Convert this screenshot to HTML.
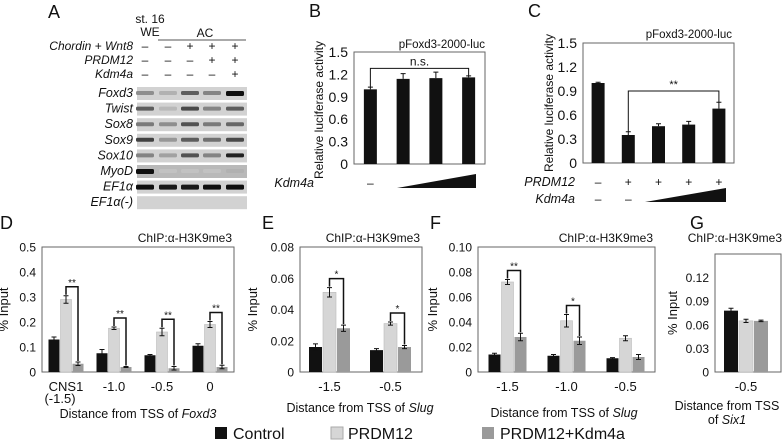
<!DOCTYPE html>
<html><head><meta charset="utf-8"><style>
body{margin:0;background:#fff}
svg{display:block;font-family:"Liberation Sans",sans-serif}
</style></head><body>
<svg id="fig" width="784" height="442" viewBox="0 0 784 442"></svg>
<script>
// ---- data ----
const gelRows=["Foxd3","Twist","Sox8","Sox9","Sox10","MyoD","EF1α","EF1α(-)"];
const gelBands=[[0.3,0.12,0.55,0.35,0.95],[0.55,0.08,0.65,0.35,0.55],[0.4,0.3,0.6,0.4,0.5],[0.7,0.25,0.55,0.45,0.65],[0.35,0.2,0.6,0.35,0.85],[0.95,0.03,0.03,0.03,0.12],[0.95,0.9,0.9,0.95,0.95],[0,0,0,0,0]];
const bVals=[1.0,1.14,1.15,1.16];
const bErr=[0.03,0.07,0.08,0.02];
const bTicks=[0,0.3,0.6,0.9,1.2,1.5];
const cVals=[1.0,0.35,0.46,0.48,0.68];
const cErr=[0.01,0.04,0.03,0.04,0.08];
const dCats=["CNS1","-1.0","-0.5","0"];
const dCtrl=[0.13,0.075,0.067,0.105], dPr=[0.29,0.175,0.16,0.19], dKd=[0.033,0.02,0.015,0.02];
const dCtrlE=[0.01,0.015,0.003,0.008], dPrE=[0.015,0.005,0.015,0.012], dKdE=[0.007,0.002,0.007,0.007];
const dTicks=[0,0.1,0.2,0.3,0.4,0.5];
const dSig=["**","**","**","**"];
const eCats=["-1.5","-0.5"];
const eCtrl=[0.016,0.014], ePr=[0.051,0.031], eKd=[0.028,0.016];
const eCtrlE=[0.002,0.001], ePrE=[0.003,0.001], eKdE=[0.002,0.001];
const eTicks=[0,0.02,0.04,0.06,0.08];
const eSig=["*","*"];
const fCats=["-1.5","-1.0","-0.5"];
const fCtrl=[0.014,0.013,0.011], fPr=[0.072,0.041,0.027], fKd=[0.028,0.025,0.012];
const fCtrlE=[0.001,0.001,0.0005], fPrE=[0.002,0.005,0.002], fKdE=[0.003,0.003,0.002];
const fTicks=["0","0.02","0.04","0.06","0.08","0.10"];
const fSig=["**","*",""];
const gCats=["-0.5"];
const gCtrl=[0.078], gPr=[0.065], gKd=[0.065];
const gCtrlE=[0.003], gPrE=[0.002], gKdE=[0.001];
const gTicks=["0","0.03","0.06","0.09","0.12"];

const S=document.getElementById('fig');
const NS="http://www.w3.org/2000/svg";
function mk(tag,at,parent){const e=document.createElementNS(NS,tag);for(const k in at)e.setAttribute(k,at[k]);(parent||S).appendChild(e);return e;}
function txt(x,y,s,size,anchor,extra){const e=mk('text',Object.assign({x:x,y:y,'font-size':size,'text-anchor':anchor||'start',fill:'#111'},extra||{}));e.textContent=s;return e;}

// panel letters
[["A",48,18],["B",309,17],["C",528,17],["D",0,229],["E",262,229],["F",430,229],["G",690,229]].forEach(p=>{
 const t=txt(p[1],p[2],p[0],18);
 
 
});

// ---- Panel A gel ----
const lanes=[145,168,190,212,235];
let t;
t=txt(150,23,"st. 16",12,'middle');
t=txt(150,36,"WE",12,'middle');
t=txt(205,37,"AC",12,'middle');
let ln=mk('line',{x1:158,y1:40,x2:246,y2:40,stroke:'#555','stroke-width':1});

const condRows=[["Chordin + Wnt8",50,["–","–","+","+","+"]],["PRDM12",64,["–","–","–","+","+"]],["Kdm4a",78,["–","–","–","–","+"]]];
condRows.forEach(r=>{
 const l=txt(133,r[1],r[0],12,'end',{'font-style':'italic'});
 
 r[2].forEach((s,i)=>{const q=txt(lanes[i],r[1],s,12,'middle');});
});
gelRows.forEach((name,ri)=>{
 const y=87+ri*15.6;
 const l=txt(133,y+10,name,12.5,'end',{'font-style':'italic'});
 
 const strip=mk('rect',{x:137,y:y,width:110,height:13,fill:ri==5?'#b9b9b9':'#d2d2d2'});
 
 gelBands[ri].forEach((v,i)=>{
  if(v<=0)return;
  const g=Math.round(200-v*195);
  const b=mk('rect',{x:lanes[i]-9,y:y+4,width:18,height:v>0.85?5:4,rx:1.5,fill:`rgb(${g},${g},${g})`});
  
 });
});

// ---- generic bar helpers ----
function axisBox(x0,x1,yTop,y0,name){const r=mk('rect',{x:x0,y:yTop,width:x1-x0,height:y0-yTop,fill:'none',stroke:'#666','stroke-width':1});}
function errBar(x,yv,ye,name){const g=mk('path',{d:`M${x},${yv}V${ye}M${x-2.5},${ye}H${x+2.5}`,stroke:'#111','stroke-width':1,fill:'none'});}
function errBar2(x,yhi,ylo,name){const g=mk('path',{d:`M${x},${yhi}V${ylo}M${x-2.5},${yhi}H${x+2.5}M${x-2.5},${ylo}H${x+2.5}`,stroke:'#111','stroke-width':1,fill:'none'});}

// ---- Panel B ----
(function(){
 const x0=354,x1=485,y0=164,yT=52,max=1.5;
 const Y=v=>y0-(v/max)*(y0-yT);
 const X=i=>x0+(i+0.5)*(x1-x0)/bVals.length;
 axisBox(x0,x1,yT,y0,'panel-b-plot-area');
 bTicks.forEach(v=>{const q=txt(x0-6,Y(v)+5,String(v),14,'end');});
 bVals.forEach((v,i)=>{
  const r=mk('rect',{x:X(i)-6.5,y:Y(v),width:13,height:y0-Y(v),fill:'#111'});
  
  errBar(X(i),Y(v),Y(v+bErr[i]),'b-error-bar');
 });
 const by=Y(1.28);
 const p=mk('path',{d:`M${X(0)},${Y(bVals[0]+bErr[0])}V${by}H${X(3)}V${Y(bVals[3]+bErr[3])}`,stroke:'#111',fill:'none'});
 
 t=txt((X(0)+X(3))/2,by-3,"n.s.",12,'middle');
 t=txt(x1,48,"pFoxd3-2000-luc",11.5,'end');
 t=txt(323,110,"Relative luciferase activity",12,'middle',{transform:'rotate(-90 323 110)'});
 t=txt(314,187,"Kdm4a",12.5,'end',{'font-style':'italic'});
 t=txt(X(0),187,"–",12,'middle');
 const tri=mk('polygon',{points:`397,188 476,188 476,174`,fill:'#111'});
})();

// ---- Panel C ----
(function(){
 const x0=583,x1=734,y0=163,yT=43,max=1.5;
 const Y=v=>y0-(v/max)*(y0-yT);
 const X=i=>x0+(i+0.5)*(x1-x0)/cVals.length;
 axisBox(x0,x1,yT,y0,'panel-c-plot-area');
 bTicks.forEach(v=>{const q=txt(x0-6,Y(v)+5,String(v),14,'end');});
 cVals.forEach((v,i)=>{
  const r=mk('rect',{x:X(i)-6.5,y:Y(v),width:13,height:y0-Y(v),fill:'#111'});
  
  errBar(X(i),Y(v),Y(v+cErr[i]),'c-error-bar');
 });
 const by=Y(0.9);
 const p=mk('path',{d:`M${X(1)},${Y(cVals[1]+cErr[1])}V${by}H${X(4)}V${Y(cVals[4]+cErr[4])}`,stroke:'#111',fill:'none'});
 
 t=txt((X(1)+X(4))/2,by-3,"**",11,'middle');
 t=txt(x1-2,38,"pFoxd3-2000-luc",11.5,'end');
 t=txt(553,103,"Relative luciferase activity",12,'middle',{transform:'rotate(-90 553 103)'});
 t=txt(575,186,"PRDM12",12.5,'end',{'font-style':'italic'});
 t=txt(575,203,"Kdm4a",12.5,'end',{'font-style':'italic'});
 ["–","+","+","+","+"].forEach((s,i)=>{const q=txt(X(i),186,s,12,'middle');});
 ["–","–"].forEach((s,i)=>{const q=txt(X(i),203,s,12,'middle');});
 const tri=mk('polygon',{points:`645,202 726,202 726,188`,fill:'#111'});
})();

// ---- ChIP panels ----
const COL=['#111','#d6d6d6','#9a9a9a'];
function chip(cfg){
 const {id,x0,x1,yT,y0,max,ticks,cats,ser,err,sig,bw,yl}=cfg;
 const Y=v=>y0-(v/max)*(y0-yT);
 const gw=(x1-x0)/cats.length;
 const X=i=>x0+(i+0.5)*gw+(cfg.shift||0);
 const step=cfg.step||max/(ticks.length-1);
 axisBox(x0,x1,yT,y0,id+'-plot-area');
 ticks.forEach((s,k)=>{const v=step*k;const q=txt(x0-6,Y(v)+4.5,String(s),12,'end');});
 cats.forEach((c,i)=>{
  ser.forEach((vals,si)=>{
   const cx=X(i)+(si-1)*(bw+1);
   const v=vals[i];
   const r=mk('rect',{x:cx-bw/2,y:Y(v),width:bw,height:y0-Y(v),fill:COL[si],stroke:si==1?'#bbb':'none','stroke-width':0.6});
   
   errBar2(cx,Y(v+err[si][i]),Y(Math.max(0,v-err[si][i])),id+'-error-bar');
  });
  if(sig&&sig[i]){
   const xa=X(i),xb=X(i)+bw+1;
   const top=Y(ser[1][i]+err[1][i])-9;
   const p=mk('path',{d:`M${xa},${Y(ser[1][i]+err[1][i])-1}V${top}H${xb}V${Y(ser[2][i]+err[2][i])-1}`,stroke:'#111','stroke-width':1.5,fill:'none'});
   
   const q=txt((xa+xb)/2,top-1,sig[i],10,'middle');
  }
  const cl=txt(X(i),cfg.catY,c,13,'middle');
 });
 const yt=txt(yl,(yT+y0)/2,"% Input",13,'middle',{transform:`rotate(-90 ${yl} ${(yT+y0)/2})`});
 
 return X;
}
chip({id:'d',x0:42,x1:234,yT:247,y0:372,max:0.5,ticks:dTicks,cats:dCats,ser:[dCtrl,dPr,dKd],err:[dCtrlE,dPrE,dKdE],sig:dSig,bw:11,yl:8,catY:391});
t=txt(60,403,"(-1.5)",13,'middle');
t=txt(138,418,"",12.5,'middle');
t.innerHTML='Distance from TSS of <tspan font-style="italic">Foxd3</tspan>';
t=txt(232,242,"ChIP:α-H3K9me3",12,'end');

chip({id:'e',x0:300,x1:422,yT:247,y0:372,max:0.08,ticks:eTicks,cats:eCats,ser:[eCtrl,ePr,eKd],err:[eCtrlE,ePrE,eKdE],sig:eSig,bw:13,yl:257,catY:391,shift:-1});
t=txt(360,412,"",12.5,'middle');
t.innerHTML='Distance from TSS of <tspan font-style="italic">Slug</tspan>';
t=txt(420,242,"ChIP:α-H3K9me3",12,'end');

chip({id:'f',x0:478,x1:655,yT:247,y0:372,max:0.10,ticks:fTicks,cats:fCats,ser:[fCtrl,fPr,fKd],err:[fCtrlE,fPrE,fKdE],sig:fSig,bw:12,yl:437,catY:391});
t=txt(564,417,"",12.5,'middle');
t.innerHTML='Distance from TSS of <tspan font-style="italic">Slug</tspan>';
t=txt(653,242,"ChIP:α-H3K9me3",12,'end');

chip({id:'g',x0:715,x1:781,yT:254,y0:372,max:0.15,step:0.03,ticks:gTicks,cats:gCats,ser:[gCtrl,gPr,gKd],err:[gCtrlE,gPrE,gKdE],sig:null,bw:14,yl:677,catY:391,shift:-2});
t=txt(727,410,"Distance from TSS",12.5,'middle');
t=txt(727,424,"",12.5,'middle');
t.innerHTML='of <tspan font-style="italic">Six1</tspan>';
t=txt(782,242,"ChIP:α-H3K9me3",12,'end');

// ---- legend ----
[["Control",215,233,COL[0]],["PRDM12",331,348,COL[1]],["PRDM12+Kdm4a",482,500,COL[2]]].forEach(l=>{
 const r=mk('rect',{x:l[1],y:427,width:12,height:12,fill:l[3],stroke:l[3]==COL[1]?'#aaa':'none'});
 
 const q=txt(l[2],439,l[0],16);
});
</script>
</body></html>
